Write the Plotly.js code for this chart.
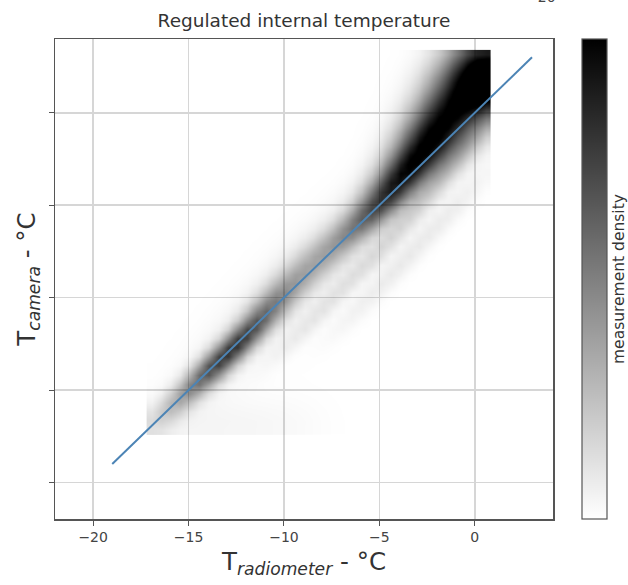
<!DOCTYPE html>
<html>
<head>
<meta charset="utf-8">
<script src="https://cdn.plot.ly/plotly-3.0.1.min.js"></script>
<style>html,body{margin:0;padding:0;background:#fff;}#chart{width:628px;height:585px;}</style>
</head>
<body>
<div id="chart"></div>
<script>
// ---- 1:1 reference line ----
const lineX = [-19, 3];
const lineY = [-19, 3];

// ---- density components (centre x, offset y-x, weight, cross width) ----
const mainX   = [-17, -16, -15, -14, -13, -12, -11, -10, -9, -8, -7, -6, -5, -4, -3, -2, -1, 0, 0.5, 1];
const mainOff = [0, 0, 0, 0, -0.1, 0, 0.2, 0.4, 0.4, 0.3, 0.2, 0.0, 0.1, 0.4, 0.75, 1.1, 1.5, 1.9, 2.1, 2.3];
const mainW   = [0.08, 0.2, 0.42, 0.7, 0.9, 0.86, 0.6, 0.36, 0.26, 0.23, 0.3, 0.48, 0.85, 1.15, 1.25, 1.25, 1.25, 1.2, 0.7, 0.6];
const mainS   = [0.8, 0.7, 0.65, 0.65, 0.65, 0.65, 0.75, 0.85, 0.9, 0.9, 0.8, 0.75, 0.85, 1.0, 1.3, 1.5, 1.7, 1.8, 1.8, 1.8];

// dense column at the warm end (radiometer ≈ 0.5 °C)
const colX = [0.6, 0.6, 0.6];
const colY = [0.5, 1.3, 2.1];
const colW = [0.4, 0.5, 0.5];

const sideAX   = [-10, -9, -8, -7, -6, -5, -4, -3, -2, -1, 0];
const sideAOff = [-2.8, -2.7, -2.6, -2.6, -2.5, -2.5, -2.4, -2.1, -1.8, -1.5, -1.1];
const sideAW   = [0.08, 0.1, 0.12, 0.12, 0.14, 0.16, 0.18, 0.18, 0.17, 0.15, 0.12];

const sideBX   = [-7, -6, -5, -4, -3, -2, -1, 0];
const sideBOff = [-4.6, -4.5, -4.4, -4.3, -4.2, -4.1, -4.0, -3.9];
const sideBW   = [0.05, 0.07, 0.09, 0.1, 0.1, 0.09, 0.08, 0.06];

const haloX   = [-14, -12, -10, -8, -6, -4, -2, 0];
const haloOff = [0, 0.2, 0.5, 0.5, 0.3, 0, -0.3, -0.3];
const haloW   = [0.06, 0.1, 0.12, 0.12, 0.12, 0.1, 0.08, 0.06];

const floorX = [-16.5, -15, -13.5, -12, -10.5, -9];
const floorY = [-16.9, -16.9, -16.9, -16.9, -16.9, -16.9];
const floorW = [0.05, 0.05, 0.05, 0.05, 0.04, 0.03];

// histogram support (data range of the density image)
const histX = [-17.2, 0.85];
const histY = [-17.4, 3.4];

// ---- build density grid ----
function kern(x, y, cx, cy, w, s, L) {
  const dx = x - cx, dy = y - cy;
  const p = dy - dx, q = (dx + dy) / 2;
  return w * Math.exp(-p * p / (2 * s * s) - q * q / (2 * L * L));
}
const nX = 36, nY = 42;
const xEdges = [], yEdges = [];
for (let i = 0; i <= nX; i++) xEdges.push(histX[0] + (histX[1] - histX[0]) * i / nX);
for (let j = 0; j <= nY; j++) yEdges.push(histY[0] + (histY[1] - histY[0]) * j / nY);
const z = [];
for (let j = 0; j < nY; j++) {
  const y = (yEdges[j] + yEdges[j + 1]) / 2;
  const row = [];
  for (let i = 0; i < nX; i++) {
    const x = (xEdges[i] + xEdges[i + 1]) / 2;
    let v = 0;
    mainX.forEach((cx, k) => { v += kern(x, y, cx, cx + mainOff[k], mainW[k], mainS[k], 1.0); });
    colX.forEach((cx, k) => { v += kern(x, y, cx, colY[k], colW[k], 1.0, 0.5); });
    sideAX.forEach((cx, k) => { v += kern(x, y, cx, cx + sideAOff[k], sideAW[k], 0.45, 1.0); });
    sideBX.forEach((cx, k) => { v += kern(x, y, cx, cx + sideBOff[k], sideBW[k], 0.5, 1.0); });
    haloX.forEach((cx, k) => { v += kern(x, y, cx, cx + haloOff[k], haloW[k], 1.5, 1.5); });
    floorX.forEach((cx, k) => { v += kern(x, y, cx, floorY[k], floorW[k], 1.6, 0.8); });
    row.push(v / 2.5);
  }
  z.push(row);
}

const traces = [
  {
    type: 'heatmap', x: xEdges, y: yEdges, z: z, zmin: 0, zmax: 1, zsmooth: 'best',
    colorscale: [[0, 'rgba(0,0,0,0)'], [1, 'rgba(0,0,0,1)']],
    hoverinfo: 'skip',
    colorbar: {
      x: 1.058, xanchor: 'left', xpad: 0, ypad: 0, y: 0.5, yanchor: 'middle',
      len: 1, lenmode: 'fraction', thickness: 25, thicknessmode: 'pixels',
      outlinecolor: '#555', outlinewidth: 1.2, showticklabels: false, ticks: ''
    }
  },
  {
    type: 'scatter', mode: 'lines', x: lineX, y: lineY,
    line: { color: '#4c84b5', width: 2 }, showlegend: false, hoverinfo: 'skip'
  }
];

const font = 'DejaVu Sans, Liberation Sans, sans-serif';
const layout = {
  width: 628, height: 585,
  margin: { l: 55, r: 75, t: 39, b: 66 },
  paper_bgcolor: '#ffffff', plot_bgcolor: '#ffffff',
  font: { family: font, color: '#333' },
  showlegend: false,
  title: { text: 'Regulated internal temperature', x: 0.5, xref: 'paper', xanchor: 'center',
           y: 1 - 21 / 585, yref: 'container', yanchor: 'middle', font: { size: 18.5, color: '#333', family: font } },
  xaxis: {
    range: [-22, 4.1], tickvals: [-20, -15, -10, -5, 0],
    showgrid: true, gridcolor: '#d6d6d6', gridwidth: 1.5, zeroline: false,
    showline: true, linecolor: '#555', linewidth: 1.5, mirror: true,
    ticks: 'outside', ticklen: 5, tickcolor: '#555', tickwidth: 1,
    tickfont: { size: 14, color: '#444', family: font },
    title: { text: 'T<sub><i>radiometer</i></sub> - °C', font: { size: 24.5, color: '#333', family: font }, standoff: 8 }
  },
  yaxis: {
    range: [-21.97, 3.99], tickvals: [-20, -15, -10, -5, 0], showticklabels: false,
    showgrid: true, gridcolor: '#d6d6d6', gridwidth: 1.5, zeroline: false,
    showline: true, linecolor: '#555', linewidth: 1.5, mirror: true,
    ticks: 'outside', ticklen: 5, tickcolor: '#555', tickwidth: 1,
    title: { text: 'T<sub><i>camera</i></sub> - °C', font: { size: 24.5, color: '#333', family: font }, standoff: 6 }
  },
  annotations: [
    { text: 'measurement density', textangle: -90, xref: 'paper', yref: 'paper',
      x: (619 - 55) / 498, y: 0.5, xanchor: 'center', yanchor: 'middle', showarrow: false,
      font: { size: 15.5, color: '#333', family: font } },
    { text: '−20', xref: 'paper', yref: 'paper', x: (541 - 55) / 498, y: (519 - 7) / 480,
      xanchor: 'center', yanchor: 'bottom', showarrow: false,
      font: { size: 14, color: '#444', family: font } }
  ]
};

Plotly.newPlot('chart', traces, layout, { displayModeBar: false, staticPlot: true });
</script>
</body>
</html>
